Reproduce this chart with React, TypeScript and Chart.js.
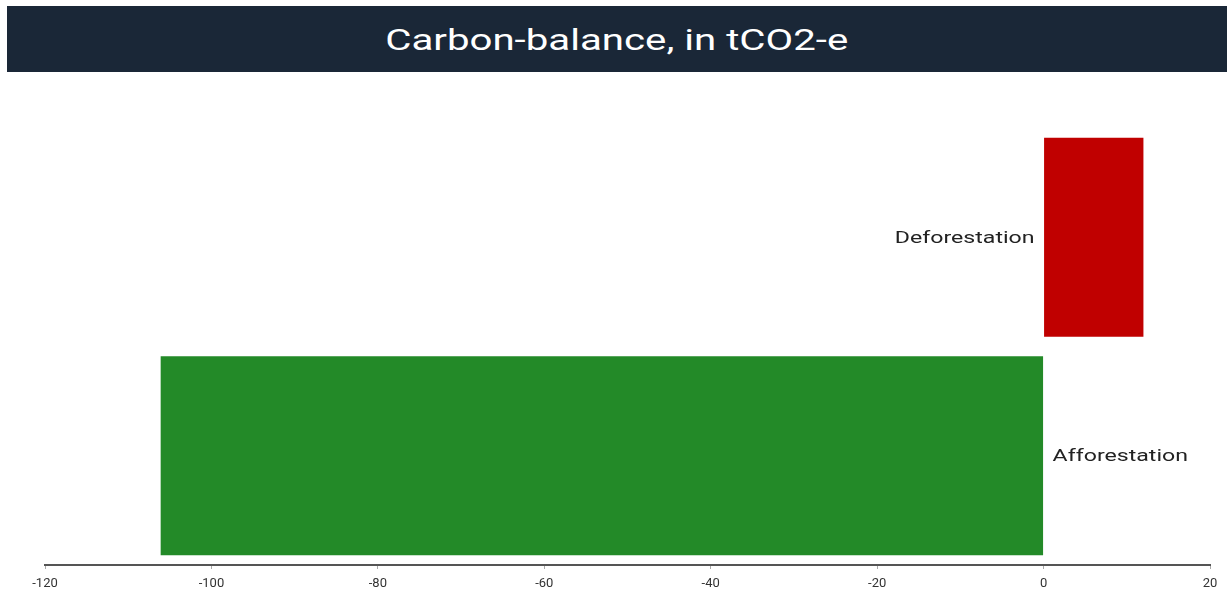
import React, { useEffect, useRef } from "react";
import { Chart, registerables } from "chart.js";

Chart.register(...registerables);

const titleText = "Carbon-balance, in tCO2-e";
const categories = ["Deforestation", "Afforestation"];
const values = [12, -106.1];
const barColors = ["#c00000", "#238a28"];
const xMin = -120;
const xMax = 20;
const xStep = 20;

const labelPlugin = {
  id: "barLabels",
  afterDatasetsDraw(chart: any) {
    const ctx = chart.ctx;
    const meta = chart.getDatasetMeta(0);
    const zeroX = chart.scales.x.getPixelForValue(0);
    const stretch = 1.36;
    ctx.save();
    ctx.font = "17px Roboto";
    ctx.fillStyle = "#222222";
    ctx.textBaseline = "middle";
    meta.data.forEach((bar: any, i: number) => {
      const v = values[i];
      ctx.save();
      if (v >= 0) {
        ctx.translate(zeroX - 9, bar.y + 1);
        ctx.scale(stretch, 1);
        ctx.textAlign = "right";
      } else {
        ctx.translate(zeroX + 9, bar.y + 1);
        ctx.scale(stretch, 1);
        ctx.textAlign = "left";
      }
      ctx.fillText(categories[i], 0, 0);
      ctx.restore();
    });
    ctx.restore();
  },
};

export default function App() {
  const canvasRef = useRef<HTMLCanvasElement | null>(null);

  useEffect(() => {
    document.body.style.margin = "0";
    const canvas = canvasRef.current;
    if (!canvas) return;
    const chart = new Chart(canvas, {
      type: "bar",
      data: {
        labels: categories,
        datasets: [
          {
            data: values,
            backgroundColor: barColors,
            barPercentage: 0.91,
            categoryPercentage: 1,
          },
        ],
      },
      options: {
        indexAxis: "y",
        animation: false,
        responsive: false,
        maintainAspectRatio: false,
        layout: { padding: { left: 45, right: 17, top: 128, bottom: 0 } },
        plugins: {
          legend: { display: false },
          tooltip: { enabled: false },
          title: { display: false },
        },
        scales: {
          x: {
            type: "linear",
            min: xMin,
            max: xMax,
            ticks: {
              stepSize: xStep,
              color: "#333333",
              font: { family: "Roboto", size: 13 },
              padding: 7,
            },
            grid: {
              drawOnChartArea: false,
              drawTicks: true,
              tickLength: 4,
              color: "#aaaaaa",
            },
            border: { display: true, color: "#555555", width: 2 },
            afterFit(scale: any) {
              scale.height = 29;
            },
          },
          y: {
            display: false,
          },
        },
      },
      plugins: [labelPlugin],
    } as any);
    return () => chart.destroy();
  }, []);

  return (
    <div style={{ position: "relative", width: 1227, height: 594, background: "#ffffff", overflow: "hidden" }}>
      <div
        style={{
          position: "absolute",
          left: 7,
          top: 6,
          width: 1220,
          height: 66,
          background: "#1a2737",
          color: "#ffffff",
          fontFamily: "Roboto",
          fontSize: 30,
          display: "flex",
          alignItems: "center",
          justifyContent: "center",
        }}
      >
        <span style={{ display: "inline-block", transform: "scaleX(1.34)", whiteSpace: "nowrap" }}>{titleText}</span>
      </div>
      <canvas
        ref={canvasRef}
        width={1227}
        height={594}
        style={{ position: "absolute", left: 0, top: 0, width: 1227, height: 594 }}
      />
    </div>
  );
}
